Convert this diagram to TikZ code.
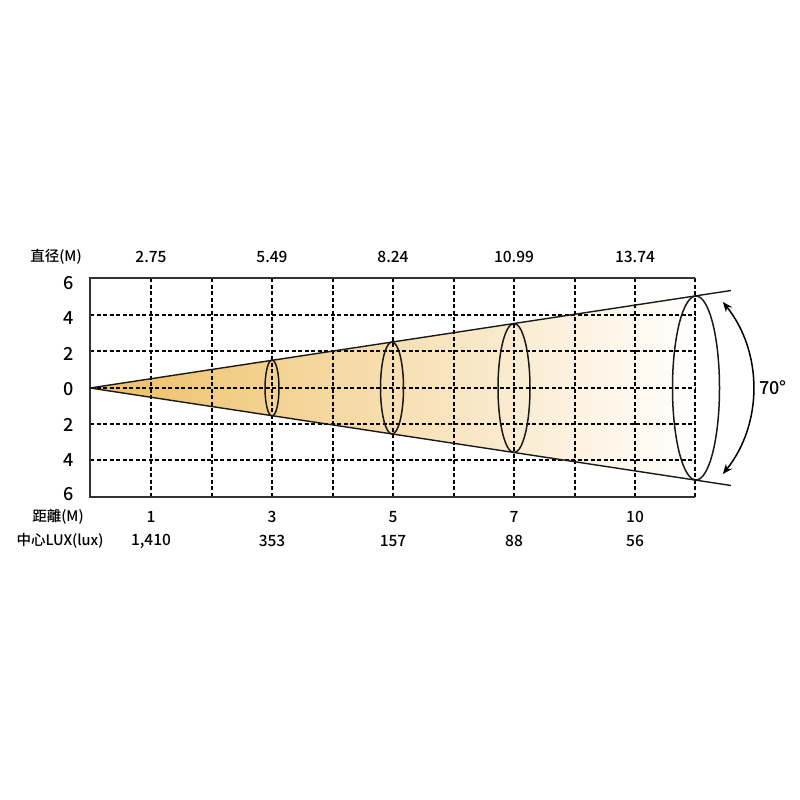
\documentclass[tikz,border=0pt]{standalone}
\usepackage{fontspec}
\setmainfont{Noto Sans CJK TC}[UprightFont=* Medium]
\usetikzlibrary{arrows.meta}
\definecolor{beamcol}{RGB}{238,190,98}
\definecolor{framecol}{RGB}{50,50,50}
\tikzset{
  gridline/.style={draw=black, line width=1.3pt, dash pattern=on 4pt off 2.5pt},
  frameline/.style={draw=framecol, line width=1.8pt},
  beamline/.style={draw=black!90, line width=1.4pt},
  ringline/.style={draw=black!90, line width=1.5pt},
  toplabel/.style={font=\fontsize{14.5}{16}\selectfont, anchor=center, inner sep=0pt},
  numlabel/.style={font=\fontsize{15.5}{17}\selectfont, anchor=center, inner sep=0pt},
  ylabel/.style={font=\fontsize{18}{20}\selectfont, anchor=center, inner sep=0pt},
  anglearrow/.style={line width=1.5pt, {Stealth[length=10pt,width=8pt]}-{Stealth[length=10pt,width=8pt]}}
}
\begin{document}
\begin{tikzpicture}[x=1pt,y=-1pt]
\useasboundingbox (0,0) rectangle (800,800);
% key points
\coordinate (apex) at (90,388);
\coordinate (utop) at (695,296);
\coordinate (ubot) at (695,480);
\coordinate (uend) at (731,290.5);
\coordinate (lend) at (731,485.5);
% beam fill
\shade[left color=beamcol, right color=white] (apex) -- (utop) -- (ubot) -- cycle;
% grid
\foreach \yy in {315,351,388,424,460} \draw[gridline] (90,\yy) -- (695,\yy);
\foreach \xx in {151,212,272,333,393,454,514,575,635,695} \draw[gridline] (\xx,278) -- (\xx,497);
% frame
\draw[frameline] (695,278) -- (90,278) -- (90,497) -- (695,497);
% beam lines
\draw[beamline] (apex) -- (uend);
\draw[beamline] (apex) -- (lend);
% rings
\coordinate (r1) at (272,388);
\coordinate (r2) at (392,388);
\coordinate (r3) at (514,388);
\coordinate (r4) at (696,388);
\draw[ringline] (r1) ellipse [x radius=7, y radius=28];
\draw[ringline] (r2) ellipse [x radius=11.5, y radius=46];
\draw[ringline] (r3) ellipse [x radius=16, y radius=64.5];
\draw[ringline] (r4) ellipse [x radius=23.5, y radius=92];
% angle arrow
\coordinate (ac) at (615,388);
\coordinate (aup) at ([shift={(-38.6:138)}]ac);
\draw[anglearrow] (aup) arc[start angle=-38.6, end angle=38.6, radius=138];
\node[font=\fontsize{18}{20}\selectfont, inner sep=0pt] (ang) at (773,388) {70°};
% top labels
\node[toplabel] (dia) at (56,257) {直径(M)};
\node[numlabel] (d1) at (151,257) {2.75};
\node[numlabel] (d2) at (272,257) {5.49};
\node[numlabel] (d3) at (393,257) {8.24};
\node[numlabel] (d4) at (514,257) {10.99};
\node[numlabel] (d5) at (635,257) {13.74};
% y labels
\node[ylabel] (y1) at (69,283) {6};
\node[ylabel] (y2) at (69,318) {4};
\node[ylabel] (y3) at (69,354) {2};
\node[ylabel] (y4) at (69,389) {0};
\node[ylabel] (y5) at (69,425) {2};
\node[ylabel] (y6) at (69,460) {4};
\node[ylabel] (y7) at (69,494) {6};
% bottom labels
\node[toplabel] (dist) at (58,517) {距離(M)};
\node[numlabel] (m1) at (151,517) {1};
\node[numlabel] (m2) at (272,517) {3};
\node[numlabel] (m3) at (393,517) {5};
\node[numlabel] (m4) at (514,517) {7};
\node[numlabel] (m5) at (635,517) {10};
\node[toplabel] (lux) at (60,541) {中心LUX(lux)};
\node[numlabel] (l1) at (151,541) {1,410};
\node[numlabel] (l2) at (272,541) {353};
\node[numlabel] (l3) at (393,541) {157};
\node[numlabel] (l4) at (514,541) {88};
\node[numlabel] (l5) at (635,541) {56};
\end{tikzpicture}
\end{document}
